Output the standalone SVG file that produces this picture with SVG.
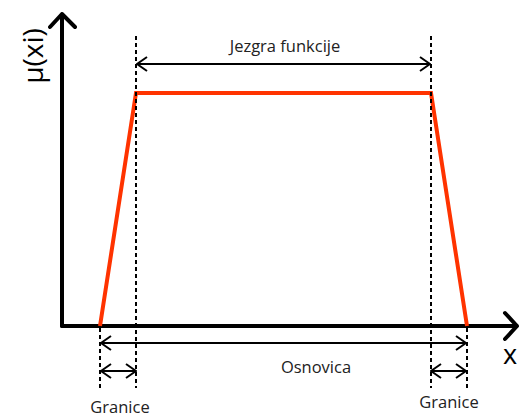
<svg xmlns="http://www.w3.org/2000/svg" width="520" height="418" viewBox="0 0 520 418">
<style>
.ax{stroke:#000;stroke-width:4;fill:none;stroke-linecap:round;stroke-linejoin:round}
.dot{stroke:#000;stroke-width:2;stroke-dasharray:4,3;fill:none}
.dim{stroke:#000;stroke-width:2;fill:none}
.t{font-family:"Open Sans","Liberation Sans",sans-serif;fill:#222;font-size:16.5px}
</style>
<defs>
<marker id="ah" viewBox="0 0 12 16" refX="11" refY="8" markerWidth="12" markerHeight="16" markerUnits="userSpaceOnUse" orient="auto-start-reverse">
<path d="M1,1 L11,8 L1,15" fill="none" stroke="#000" stroke-width="2"/>
</marker>
</defs>
<g id="axes">
<path class="ax" d="M62,326 V14 M50,27 L62,14 L75,27"/>
<path class="ax" d="M62,326 H517 M505,313 L517,326 L505,339"/>
<text x="0" y="0" transform="translate(43,56) rotate(-90)" text-anchor="middle" style="font-family:'Open Sans','Liberation Sans',sans-serif;font-size:28px;fill:#000">μ(xi)</text>
<text x="510" y="364" text-anchor="middle" style="font-family:'Open Sans','Liberation Sans',sans-serif;font-size:27px;fill:#000">x</text>
</g>
<g id="trapezoid">
<path d="M100,326 L136,93 L431,93 L467,326" fill="none" stroke="#ff3300" stroke-width="4" stroke-linejoin="miter"/>
</g>
<g id="guides">
<line class="dot" x1="136" y1="36" x2="136" y2="388"/>
<line class="dot" x1="431" y1="36" x2="431" y2="388"/>
<line class="dot" x1="100" y1="328" x2="100" y2="388"/>
<line class="dot" x1="467" y1="328" x2="467" y2="388"/>
</g>
<g id="connectors">
<line class="dim" x1="137" y1="64" x2="430" y2="64" marker-start="url(#ah)" marker-end="url(#ah)"/>
<line class="dim" x1="101" y1="343" x2="466" y2="343" marker-start="url(#ah)" marker-end="url(#ah)"/>
<line class="dim" x1="101" y1="371" x2="136" y2="371" marker-start="url(#ah)" marker-end="url(#ah)"/>
<line class="dim" x1="431" y1="371" x2="466" y2="371" marker-start="url(#ah)" marker-end="url(#ah)"/>
</g>
<g id="labels">
<text class="t" x="285" y="52" text-anchor="middle">Jezgra funkcije</text>
<text class="t" x="316" y="373" text-anchor="middle">Osnovica</text>
<text class="t" x="120" y="413" text-anchor="middle">Granice</text>
<text class="t" x="449" y="408" text-anchor="middle">Granice</text>
</g>
</svg>
